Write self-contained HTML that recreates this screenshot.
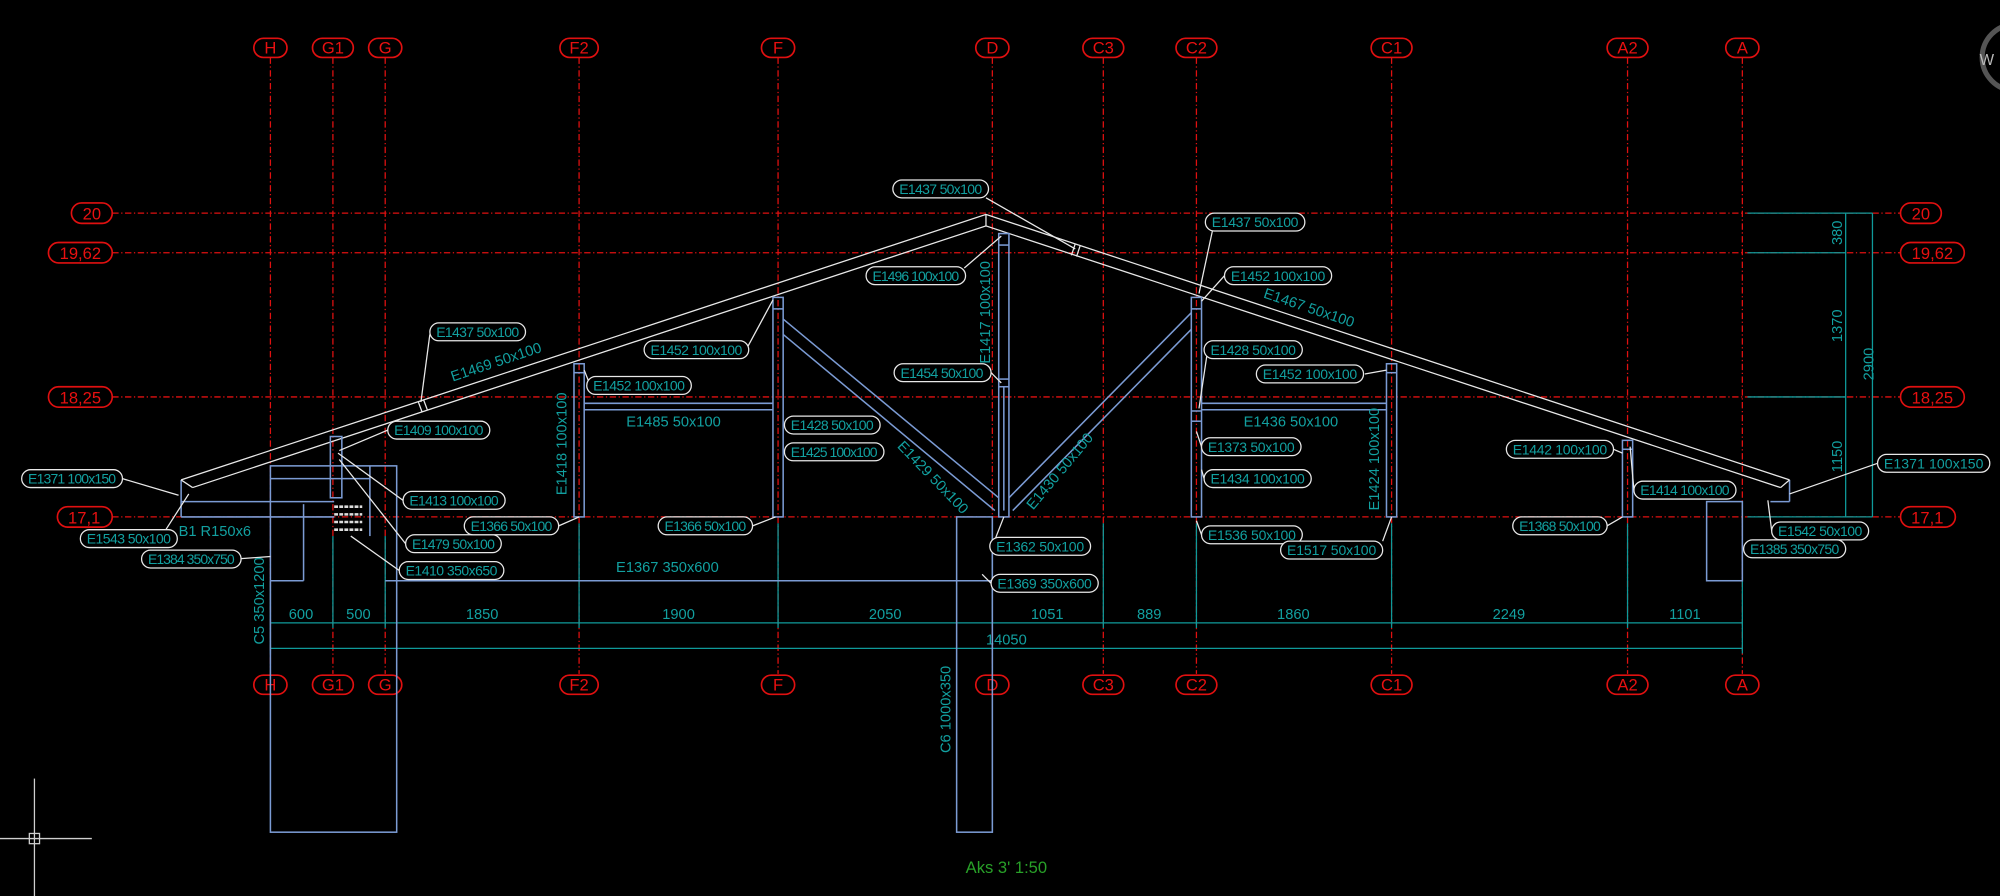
<!DOCTYPE html>
<html><head><meta charset="utf-8"><style>
html,body{margin:0;padding:0;background:#000;width:2000px;height:896px;overflow:hidden}
svg{display:block}
text{font-family:"Liberation Sans",sans-serif}
.ax{stroke:#e01010;stroke-width:1;stroke-dasharray:5 2 1 2;fill:none}
.bub{fill:none;stroke:#e01010;stroke-width:1.3}
.bt{fill:#e81010;font-size:13px;text-anchor:middle}
.w{stroke:#e8e8e8;stroke-width:1;fill:none}
.b{stroke:#7b9bd4;stroke-width:1.2;fill:none}
.t{stroke:#0f9a9a;stroke-width:1;fill:none}
.p{fill:#000;stroke:#e8e8e8;stroke-width:1}
.pt{fill:#12a0a0;font-size:11px}
.tt{fill:#12a0a0;font-size:11.5px}
</style></head><body>
<svg width="2000" height="896" viewBox="0 0 1568 702" preserveAspectRatio="none" xmlns="http://www.w3.org/2000/svg">
<rect width="1568" height="702" fill="#000"/>
<g class="ax">
<line x1="212" y1="45" x2="212" y2="528"/><line x1="261" y1="45" x2="261" y2="528"/><line x1="302" y1="45" x2="302" y2="528"/>
<line x1="454" y1="45" x2="454" y2="528"/><line x1="610" y1="45" x2="610" y2="528"/><line x1="778" y1="45" x2="778" y2="528"/>
<line x1="865" y1="45" x2="865" y2="528"/><line x1="938" y1="45" x2="938" y2="528"/><line x1="1091" y1="45" x2="1091" y2="528"/>
<line x1="1276" y1="45" x2="1276" y2="528"/><line x1="1366" y1="45" x2="1366" y2="528"/>
<line x1="88" y1="167" x2="1490" y2="167"/><line x1="88" y1="198" x2="1490" y2="198"/>
<line x1="88" y1="311" x2="1490" y2="311"/><line x1="88" y1="405" x2="1490" y2="405"/>
</g>
<g>
<rect class="bub" x="199" y="30" width="26" height="15" rx="7.5"/><text class="bt" x="212" y="42">H</text>
<rect class="bub" x="245" y="30" width="32" height="15" rx="7.5"/><text class="bt" x="261" y="42">G1</text>
<rect class="bub" x="289" y="30" width="26" height="15" rx="7.5"/><text class="bt" x="302" y="42">G</text>
<rect class="bub" x="439" y="30" width="30" height="15" rx="7.5"/><text class="bt" x="454" y="42">F2</text>
<rect class="bub" x="597" y="30" width="26" height="15" rx="7.5"/><text class="bt" x="610" y="42">F</text>
<rect class="bub" x="765" y="30" width="26" height="15" rx="7.5"/><text class="bt" x="778" y="42">D</text>
<rect class="bub" x="849" y="30" width="32" height="15" rx="7.5"/><text class="bt" x="865" y="42">C3</text>
<rect class="bub" x="922" y="30" width="32" height="15" rx="7.5"/><text class="bt" x="938" y="42">C2</text>
<rect class="bub" x="1075" y="30" width="32" height="15" rx="7.5"/><text class="bt" x="1091" y="42">C1</text>
<rect class="bub" x="1260" y="30" width="32" height="15" rx="7.5"/><text class="bt" x="1276" y="42">A2</text>
<rect class="bub" x="1353" y="30" width="26" height="15" rx="7.5"/><text class="bt" x="1366" y="42">A</text>

<rect class="bub" x="199" y="529" width="26" height="15" rx="7.5"/><text class="bt" x="212" y="541">H</text>
<rect class="bub" x="245" y="529" width="32" height="15" rx="7.5"/><text class="bt" x="261" y="541">G1</text>
<rect class="bub" x="289" y="529" width="26" height="15" rx="7.5"/><text class="bt" x="302" y="541">G</text>
<rect class="bub" x="439" y="529" width="30" height="15" rx="7.5"/><text class="bt" x="454" y="541">F2</text>
<rect class="bub" x="597" y="529" width="26" height="15" rx="7.5"/><text class="bt" x="610" y="541">F</text>
<rect class="bub" x="765" y="529" width="26" height="15" rx="7.5"/><text class="bt" x="778" y="541">D</text>
<rect class="bub" x="849" y="529" width="32" height="15" rx="7.5"/><text class="bt" x="865" y="541">C3</text>
<rect class="bub" x="922" y="529" width="32" height="15" rx="7.5"/><text class="bt" x="938" y="541">C2</text>
<rect class="bub" x="1075" y="529" width="32" height="15" rx="7.5"/><text class="bt" x="1091" y="541">C1</text>
<rect class="bub" x="1260" y="529" width="32" height="15" rx="7.5"/><text class="bt" x="1276" y="541">A2</text>
<rect class="bub" x="1353" y="529" width="26" height="15" rx="7.5"/><text class="bt" x="1366" y="541">A</text>

<rect class="bub" x="56" y="159" width="32" height="16" rx="8"/><text class="bt" x="72" y="172">20</text>
<rect class="bub" x="38" y="190" width="50" height="16" rx="8"/><text class="bt" x="63" y="203">19,62</text>
<rect class="bub" x="38" y="303" width="50" height="16" rx="8"/><text class="bt" x="63" y="316">18,25</text>
<rect class="bub" x="45" y="397" width="43" height="16" rx="8"/><text class="bt" x="66" y="410">17,1</text>
<rect class="bub" x="1490" y="159" width="32" height="16" rx="8"/><text class="bt" x="1506" y="172">20</text>
<rect class="bub" x="1490" y="190" width="50" height="16" rx="8"/><text class="bt" x="1515" y="203">19,62</text>
<rect class="bub" x="1490" y="303" width="50" height="16" rx="8"/><text class="bt" x="1515" y="316">18,25</text>
<rect class="bub" x="1490" y="397" width="43" height="16" rx="8"/><text class="bt" x="1511" y="410">17,1</text>
</g>

<g class="t">
<line x1="1370" y1="167" x2="1468" y2="167"/><line x1="1370" y1="198" x2="1447" y2="198"/>
<line x1="1370" y1="311" x2="1447" y2="311"/><line x1="1370" y1="405" x2="1468" y2="405"/>
<line x1="1447" y1="167" x2="1447" y2="405"/><line x1="1468" y1="167" x2="1468" y2="405"/>
</g>
<text class="tt" transform="translate(1444,192) rotate(-90)">380</text>
<text class="tt" transform="translate(1444,268) rotate(-90)">1370</text>
<text class="tt" transform="translate(1444,370) rotate(-90)">1150</text>
<text class="tt" transform="translate(1469,298) rotate(-90)">2900</text>

<g class="t">
<line x1="212" y1="488" x2="1366" y2="488"/><line x1="212" y1="508" x2="1366" y2="508"/>
<line x1="212" y1="455" x2="212" y2="512"/><line x1="261" y1="420" x2="261" y2="492"/><line x1="302" y1="420" x2="302" y2="492"/>
<line x1="454" y1="410" x2="454" y2="492"/><line x1="610" y1="410" x2="610" y2="492"/><line x1="778" y1="410" x2="778" y2="492"/>
<line x1="865" y1="410" x2="865" y2="492"/><line x1="938" y1="410" x2="938" y2="492"/><line x1="1091" y1="410" x2="1091" y2="492"/>
<line x1="1276" y1="410" x2="1276" y2="492"/><line x1="1366" y1="455" x2="1366" y2="512"/>
</g>
<g class="tt" text-anchor="middle">
<text x="236" y="485">600</text><text x="281" y="485">500</text><text x="378" y="485">1850</text><text x="532" y="485">1900</text>
<text x="694" y="485">2050</text><text x="821" y="485">1051</text><text x="901" y="485">889</text><text x="1014" y="485">1860</text>
<text x="1183" y="485">2249</text><text x="1321" y="485">1101</text><text x="789" y="505">14050</text>
</g>

<g class="b">
<rect x="212" y="365" width="99" height="287"/>
<line x1="212" y1="375" x2="290" y2="375"/><line x1="290" y1="365" x2="290" y2="420"/>
<line x1="238" y1="395" x2="238" y2="455"/><line x1="212" y1="455" x2="238" y2="455"/>
<line x1="302" y1="455" x2="778" y2="455"/>
<rect x="750" y="405" width="28" height="247"/>
<rect x="1338" y="393" width="28" height="62"/>
<line x1="142" y1="393" x2="262" y2="393"/><line x1="142" y1="405" x2="262" y2="405"/>
<line x1="142" y1="376" x2="142" y2="405"/>
<line x1="1403" y1="376" x2="1403" y2="393"/><line x1="1388" y1="393" x2="1403" y2="393"/>
</g>
<g stroke="#ddd" stroke-width="2" stroke-dasharray="3 1">
<line x1="262" y1="397" x2="284" y2="397"/><line x1="262" y1="403" x2="284" y2="403"/><line x1="262" y1="409" x2="284" y2="409"/><line x1="262" y1="415" x2="284" y2="415"/>
</g>

<g class="w">
<polyline points="142,376 773,168 1403,376"/>
<polyline points="151,382 773,177 1396,382"/>
<line x1="773" y1="168" x2="773" y2="177"/>
<line x1="142" y1="376" x2="151" y2="382"/><line x1="1403" y1="376" x2="1396" y2="382"/>
<line x1="328" y1="315" x2="331" y2="323"/><line x1="332" y1="313" x2="335" y2="321"/>
<line x1="843" y1="191" x2="840" y2="200"/><line x1="847" y1="192" x2="844" y2="201"/>
</g>

<g class="b">
<rect x="450" y="285" width="8" height="120"/><line x1="450" y1="292" x2="458" y2="292"/>
<rect x="606" y="233" width="8" height="172"/><line x1="606" y1="242" x2="614" y2="242"/>
<rect x="783" y="183" width="8" height="222"/><line x1="783" y1="192" x2="791" y2="192"/><line x1="783" y1="297" x2="791" y2="297"/><line x1="783" y1="303" x2="791" y2="303"/><line x1="787" y1="303" x2="787" y2="400"/>
<rect x="934" y="233" width="8" height="172"/><line x1="934" y1="242" x2="942" y2="242"/><line x1="934" y1="322" x2="942" y2="322"/><line x1="934" y1="330" x2="942" y2="330"/>
<rect x="1087" y="285" width="8" height="120"/><line x1="1087" y1="292" x2="1095" y2="292"/>
<rect x="1272" y="345" width="8" height="60"/><line x1="1272" y1="352" x2="1280" y2="352"/>
<rect x="259" y="342" width="9" height="48"/>
<line x1="458" y1="316" x2="606" y2="316"/><line x1="458" y1="321" x2="606" y2="321"/>
<line x1="942" y1="316" x2="1087" y2="316"/><line x1="942" y1="321" x2="1087" y2="321"/>
<line x1="614" y1="250" x2="783" y2="390"/><line x1="614" y1="262" x2="780" y2="400"/>
<line x1="791" y1="390" x2="934" y2="245"/><line x1="794" y1="400" x2="934" y2="258"/>
</g>

<g class="w" stroke-width="0.9">
<line x1="773" y1="155" x2="843" y2="195"/>
<line x1="756" y1="210" x2="785" y2="185"/>
<line x1="777" y1="292" x2="785" y2="300"/>
<line x1="337" y1="262" x2="330" y2="315"/>
<line x1="586" y1="272" x2="606" y2="235"/>
<line x1="458" y1="290" x2="462" y2="300"/>
<line x1="304" y1="337" x2="266" y2="353"/>
<line x1="316" y1="392" x2="265" y2="355"/>
<line x1="318" y1="426" x2="266" y2="360"/>
<line x1="313" y1="447" x2="275" y2="420"/>
<line x1="96" y1="375" x2="140" y2="388"/>
<line x1="130" y1="415" x2="148" y2="387"/>
<line x1="185" y1="438" x2="212" y2="436"/>
<line x1="438" y1="412" x2="454" y2="405"/>
<line x1="590" y1="412" x2="608" y2="405"/>
<line x1="778" y1="428" x2="787" y2="405"/>
<line x1="777" y1="457" x2="770" y2="450"/>
<line x1="952" y1="174" x2="940" y2="230"/>
<line x1="960" y1="216" x2="942" y2="236"/>
<line x1="947" y1="273" x2="940" y2="320"/>
<line x1="1070" y1="293" x2="1087" y2="290"/>
<line x1="942" y1="350" x2="938" y2="338"/>
<line x1="944" y1="375" x2="942" y2="368"/>
<line x1="942" y1="419" x2="938" y2="408"/>
<line x1="1084" y1="424" x2="1091" y2="405"/>
<line x1="1265" y1="352" x2="1272" y2="355"/>
<line x1="1281" y1="384" x2="1278" y2="350"/>
<line x1="1260" y1="412" x2="1272" y2="405"/>
<line x1="1472" y1="363" x2="1403" y2="387"/>
<line x1="1389" y1="416" x2="1386" y2="392"/>
</g>

<g>
<rect class="p" x="700" y="141" width="75" height="14" rx="7"/><text class="pt" x="705" y="152" textLength="65">E1437 50x100</text>
<rect class="p" x="679" y="209" width="78" height="14" rx="7"/><text class="pt" x="684" y="220" textLength="68">E1496 100x100</text>
<rect class="p" x="701" y="285" width="76" height="14" rx="7"/><text class="pt" x="706" y="296" textLength="65">E1454 50x100</text>
<rect class="p" x="337" y="253" width="75" height="14" rx="7"/><text class="pt" x="342" y="264" textLength="65">E1437 50x100</text>
<rect class="p" x="505" y="267" width="82" height="14" rx="7"/><text class="pt" x="510" y="278" textLength="72">E1452 100x100</text>
<rect class="p" x="460" y="295" width="82" height="14" rx="7"/><text class="pt" x="465" y="306" textLength="72">E1452 100x100</text>
<rect class="p" x="304" y="330" width="80" height="14" rx="7"/><text class="pt" x="309" y="341" textLength="70">E1409 100x100</text>
<rect class="p" x="615" y="326" width="75" height="14" rx="7"/><text class="pt" x="620" y="337" textLength="65">E1428 50x100</text>
<rect class="p" x="615" y="347" width="78" height="14" rx="7"/><text class="pt" x="620" y="358" textLength="68">E1425 100x100</text>
<rect class="p" x="316" y="385" width="80" height="14" rx="7"/><text class="pt" x="321" y="396" textLength="70">E1413 100x100</text>
<rect class="p" x="318" y="419" width="75" height="14" rx="7"/><text class="pt" x="323" y="430" textLength="65">E1479 50x100</text>
<rect class="p" x="313" y="440" width="82" height="14" rx="7"/><text class="pt" x="318" y="451" textLength="72">E1410 350x650</text>
<rect class="p" x="17" y="368" width="79" height="14" rx="7"/><text class="pt" x="22" y="379" textLength="69">E1371 100x150</text>
<rect class="p" x="63" y="415" width="76" height="14" rx="7"/><text class="pt" x="68" y="426" textLength="66">E1543 50x100</text>
<rect class="p" x="111" y="431" width="78" height="14" rx="7"/><text class="pt" x="116" y="442" textLength="68">E1384 350x750</text>
<rect class="p" x="364" y="405" width="74" height="14" rx="7"/><text class="pt" x="369" y="416" textLength="64">E1366 50x100</text>
<rect class="p" x="516" y="405" width="74" height="14" rx="7"/><text class="pt" x="521" y="416" textLength="64">E1366 50x100</text>
<rect class="p" x="776" y="421" width="79" height="14" rx="7"/><text class="pt" x="781" y="432" textLength="69">E1362 50x100</text>
<rect class="p" x="777" y="450" width="84" height="14" rx="7"/><text class="pt" x="782" y="461" textLength="74">E1369 350x600</text>
<rect class="p" x="945" y="167" width="78" height="14" rx="7"/><text class="pt" x="950" y="178" textLength="68">E1437 50x100</text>
<rect class="p" x="960" y="209" width="84" height="14" rx="7"/><text class="pt" x="965" y="220" textLength="74">E1452 100x100</text>
<rect class="p" x="944" y="267" width="77" height="14" rx="7"/><text class="pt" x="949" y="278" textLength="67">E1428 50x100</text>
<rect class="p" x="985" y="286" width="84" height="14" rx="7"/><text class="pt" x="990" y="297" textLength="74">E1452 100x100</text>
<rect class="p" x="942" y="343" width="78" height="14" rx="7"/><text class="pt" x="947" y="354" textLength="68">E1373 50x100</text>
<rect class="p" x="944" y="368" width="84" height="14" rx="7"/><text class="pt" x="949" y="379" textLength="74">E1434 100x100</text>
<rect class="p" x="942" y="412" width="79" height="14" rx="7"/><text class="pt" x="947" y="423" textLength="69">E1536 50x100</text>
<rect class="p" x="1004" y="424" width="80" height="14" rx="7"/><text class="pt" x="1009" y="435" textLength="70">E1517 50x100</text>
<rect class="p" x="1181" y="345" width="84" height="14" rx="7"/><text class="pt" x="1186" y="356" textLength="74">E1442 100x100</text>
<rect class="p" x="1281" y="377" width="80" height="14" rx="7"/><text class="pt" x="1286" y="388" textLength="70">E1414 100x100</text>
<rect class="p" x="1186" y="405" width="74" height="14" rx="7"/><text class="pt" x="1191" y="416" textLength="64">E1368 50x100</text>
<rect class="p" x="1472" y="356" width="88" height="14" rx="7"/><text class="pt" x="1477" y="367" textLength="78">E1371 100x150</text>
<rect class="p" x="1389" y="409" width="76" height="14" rx="7"/><text class="pt" x="1394" y="420" textLength="66">E1542 50x100</text>
<rect class="p" x="1367" y="423" width="80" height="14" rx="7"/><text class="pt" x="1372" y="434" textLength="70">E1385 350x750</text>
</g>

<g class="tt">
<text transform="translate(355,299) rotate(-18.5)">E1469 50x100</text>
<text transform="translate(990,233) rotate(18.5)">E1467 50x100</text>
<text x="491" y="334">E1485 50x100</text>
<text x="975" y="334">E1436 50x100</text>
<text transform="translate(444,388) rotate(-90)">E1418 100x100</text>
<text transform="translate(776,285) rotate(-90)">E1417 100x100</text>
<text transform="translate(1081,400) rotate(-90)">E1424 100x100</text>
<text transform="translate(703,350) rotate(46)">E1429 50x100</text>
<text transform="translate(810,400) rotate(-50)">E1430 50x100</text>
<text x="140" y="420">B1 R150x6</text>
<text x="483" y="448">E1367 350x600</text>
<text transform="translate(207,505) rotate(-90)">C5 350x1200</text>
<text transform="translate(745,590) rotate(-90)">C6 1000x350</text>
</g>
<text x="789" y="684" fill="#28a028" font-size="13" text-anchor="middle">Aks 3' 1:50</text>

<g stroke="#cfcfcf" stroke-width="1" fill="none">
<line x1="0" y1="657" x2="72" y2="657"/><line x1="27" y1="610" x2="27" y2="702"/>
<rect x="23" y="653" width="8" height="8"/>
</g>
<circle cx="1580" cy="45" r="26" fill="none" stroke="#555" stroke-width="4"/>
<text x="1552" y="51" fill="#bbb" font-size="12">W</text>
</svg>
</body></html>
